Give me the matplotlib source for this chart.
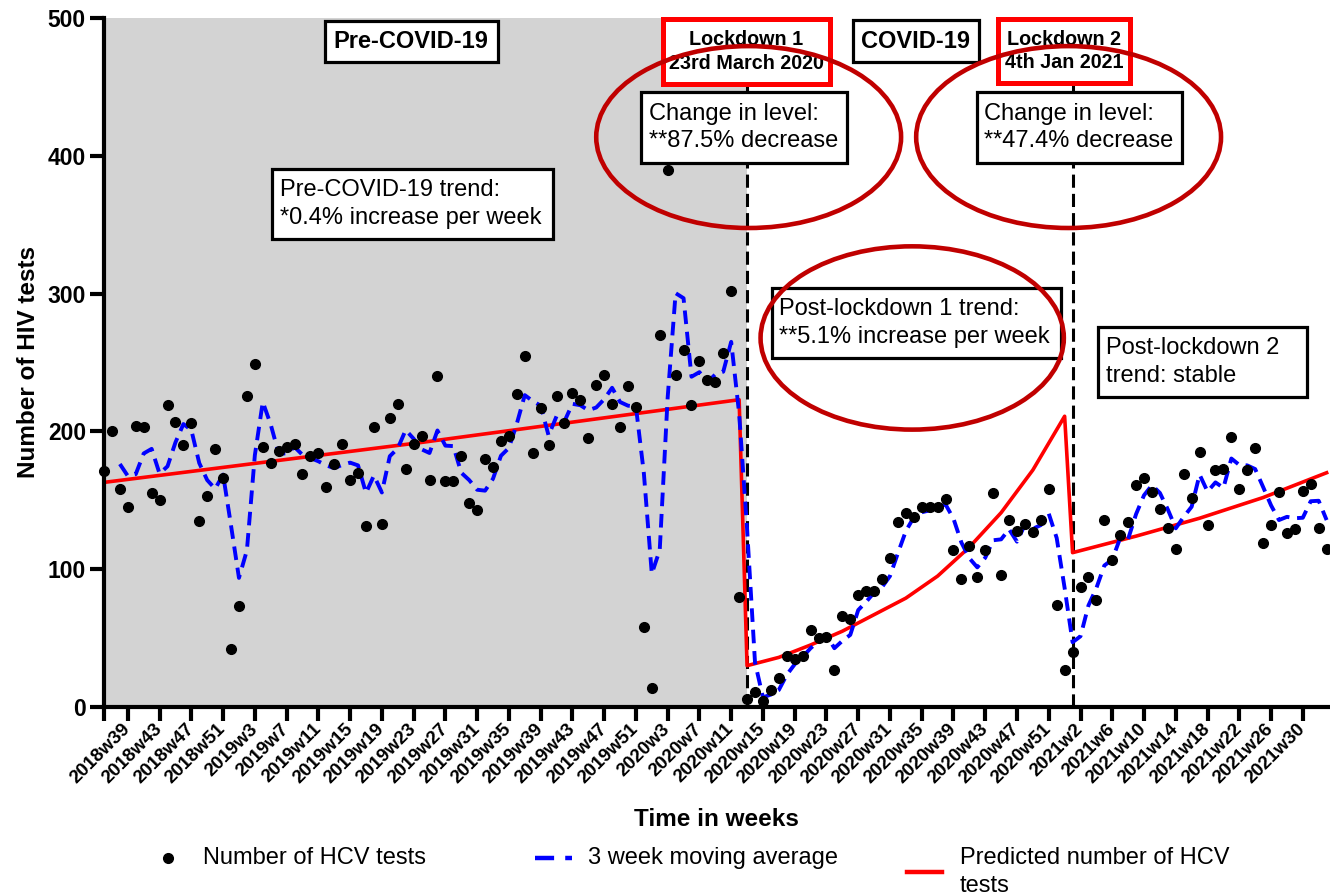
import matplotlib
matplotlib.use("Agg")
import matplotlib.pyplot as plt
import pandas as pd
from matplotlib.patches import Ellipse, Rectangle
from matplotlib.lines import Line2D

plt.rcParams['font.family'] = ['Liberation Sans', 'DejaVu Sans']

# weekly number of tests, 2018w36 .. 2021w33 (one value per week)
tests = [171, 200, 158, 145, 204, 203, 155, 150, 219, 207,
         190, 206, 135, 153, 187, 166, 42, 73, 226, 249,
         189, 177, 186, 189, 191, 169, 182, 184, 160, 176,
         191, 165, 170, 131, 203, 133, 210, 220, 173, 191,
         197, 165, 240, 164, 164, 182, 148, 143, 180, 174,
         193, 197, 227, 255, 184, 217, 190, 226, 206, 228,
         223, 195, 234, 241, 220, 203, 233, 218, 58, 14,
         270, 390, 241, 259, 219, 251, 237, 236, 257, 302,
         80, 6, 11, 4, 12, 21, 37, 35, 37, 56,
         50, 51, 27, 66, 64, 81, 84, 84, 93, 108,
         134, 141, 138, 145, 145, 145, 151, 114, 93, 117,
         94, 114, 155, 96, 136, 128, 133, 127, 136, 158,
         74, 27, 40, 87, 94, 78, 136, 107, 125, 134,
         161, 166, 156, 144, 130, 115, 169, 152, 185, 132,
         172, 173, 196, 158, 172, 188, 119, 132, 156, 126,
         129, 157, 162, 130, 115]

# segmented regression prediction (week index, value)
pred_week = [0, 40, 80, 81, 85, 89, 93, 97, 101, 105, 109, 113, 117, 121,
             122, 130, 138, 146, 154]
pred_val = [163, 192, 223, 30, 36, 45, 55, 67, 79, 95, 116, 141, 172, 211,
            112, 124, 137, 152, 170]

tick_labels = ["2018w39", "2018w43", "2018w47", "2018w51",
               "2019w3", "2019w7", "2019w11", "2019w15", "2019w19", "2019w23",
               "2019w27", "2019w31", "2019w35", "2019w39", "2019w43", "2019w47",
               "2019w51",
               "2020w3", "2020w7", "2020w11", "2020w15", "2020w19", "2020w23",
               "2020w27", "2020w31", "2020w35", "2020w39", "2020w43", "2020w47",
               "2020w51",
               "2021w2", "2021w6", "2021w10", "2021w14", "2021w18", "2021w22",
               "2021w26", "2021w30"]

lockdown1 = 81   # 2020w13
lockdown2 = 122  # 2021w1

weeks = list(range(len(tests)))
ma = pd.Series(tests).rolling(3).mean()

W, H = 1330, 896
fig = plt.figure(figsize=(W / 100, H / 100), dpi=100)
ax = fig.add_axes([104 / W, 1 - 707 / H, 1225 / W, 689 / H])

ax.axvspan(0, lockdown1, color="#d3d3d3", lw=0, zorder=0)
for lx in (lockdown1, lockdown2):
    ax.axvline(lx, color="black", lw=2.2, dashes=(4.3, 2), zorder=1)

ax.plot(pred_week, pred_val, color="#ff0000", lw=2.6, zorder=2)
ax.plot(weeks, ma, color="#0000ff", lw=2.8, dashes=(3.5, 2), zorder=3)
ax.plot(weeks, tests, "o", color="black", ms=7, zorder=4, clip_on=False)

ax.set_xlim(0, 154.3)
ax.set_ylim(0, 500)

for side in ("top", "right"):
    ax.spines[side].set_visible(False)
for side in ("left", "bottom"):
    ax.spines[side].set_linewidth(3)

ax.set_yticks(range(0, 501, 100))
ax.set_xticks(range(3, len(tests), 4))
ax.set_xticks([0], minor=True)
ax.set_xticklabels(tick_labels, fontsize=13.5, fontweight="bold",
                   rotation=45, ha="right", va="center",
                   rotation_mode="anchor")
for lab in ax.get_yticklabels():
    lab.set_fontsize(16.5)
    lab.set_fontweight("bold")
ax.tick_params(axis="both", which="both", direction="out", length=10, width=3)
ax.tick_params(axis="x", pad=4)
ax.tick_params(axis="y", pad=3)

ax.set_xlabel("Time in weeks", fontsize=17.5, fontweight="bold")
ax.xaxis.label.set_va("center")
ax.xaxis.set_label_coords(0.5, -0.163)
ax.set_ylabel("Number of HIV tests", fontsize=17.5, fontweight="bold")
ax.yaxis.label.set_va("center")
ax.yaxis.set_label_coords(-0.062, 0.5)


def box(x0, x1, y0, y1, text, edge="black", lw=2.3, weight="normal",
        size=17, left=None):
    ax.add_patch(Rectangle((x0, y0), x1 - x0, y1 - y0, facecolor="white",
                           edgecolor=edge, lw=lw, zorder=5, clip_on=False))
    ym = (y0 + y1) / 2
    if left is None:
        ax.text((x0 + x1) / 2, ym, text, ha="center", va="center",
                fontsize=size, fontweight=weight, zorder=6, linespacing=1.3)
    else:
        ax.text(left, ym, text, ha="left", va="center", fontsize=size,
                fontweight=weight, zorder=6, linespacing=1.35)


box(27.8, 49.6, 468.0, 497.8, "Pre-COVID-19", weight="bold")
box(21.2, 56.5, 339.6, 390.4, "Pre-COVID-19 trend:\n*0.4% increase per week",
    left=22.2)
box(70.4, 91.4, 452.1, 499.3, "Lockdown 1\n23rd March 2020", edge="#ff0000",
    lw=3.6, weight="bold", size=14.2)
box(94.3, 110.2, 468.0, 498.5, "COVID-19", weight="bold")
box(112.6, 129.2, 452.8, 499.3, "Lockdown 2\n4th Jan 2021", edge="#ff0000",
    lw=3.6, weight="bold", size=14.2)
box(67.6, 93.6, 394.8, 446.3, "Change in level:\n**87.5% decrease", left=68.6)
box(109.9, 135.8, 394.8, 446.3, "Change in level:\n**47.4% decrease", left=110.8)
box(84.1, 120.5, 253.3, 304.1, "Post-lockdown 1 trend:\n**5.1% increase per week",
    left=85.0)
box(125.2, 151.5, 225.0, 275.8, "Post-lockdown 2\ntrend: stable", left=126.2)

for cx, cy, ew, eh in [(81.2, 413.6, 38.4, 132), (121.5, 413.6, 38.4, 132),
                       (101.8, 267.8, 38.2, 133)]:
    ax.add_patch(Ellipse((cx, cy), ew, eh, fill=False, edgecolor="#c00000",
                         lw=3.3, zorder=7, clip_on=False))

# legend drawn below the axes
ly = 1 - 858 / H
fig.add_artist(Line2D([168 / W], [ly], marker="o", ms=7, color="black",
                      ls="none"))
fig.text(203 / W, ly, "Number of HCV tests", fontsize=17, va="center")
fig.add_artist(Line2D([535 / W, 572 / W], [ly, ly], color="#0000ff", lw=3.2,
                      dashes=(4.3, 2.5)))
fig.text(588 / W, ly, "3 week moving average", fontsize=17, va="center")
fig.add_artist(Line2D([907 / W, 942 / W], [1 - 872 / H] * 2, color="#ff0000",
                      lw=3.2))
fig.text(960 / W, 1 - 872 / H, "Predicted number of HCV\ntests", fontsize=17,
         va="center", linespacing=1.35)

fig.savefig("out.png", dpi=100)
